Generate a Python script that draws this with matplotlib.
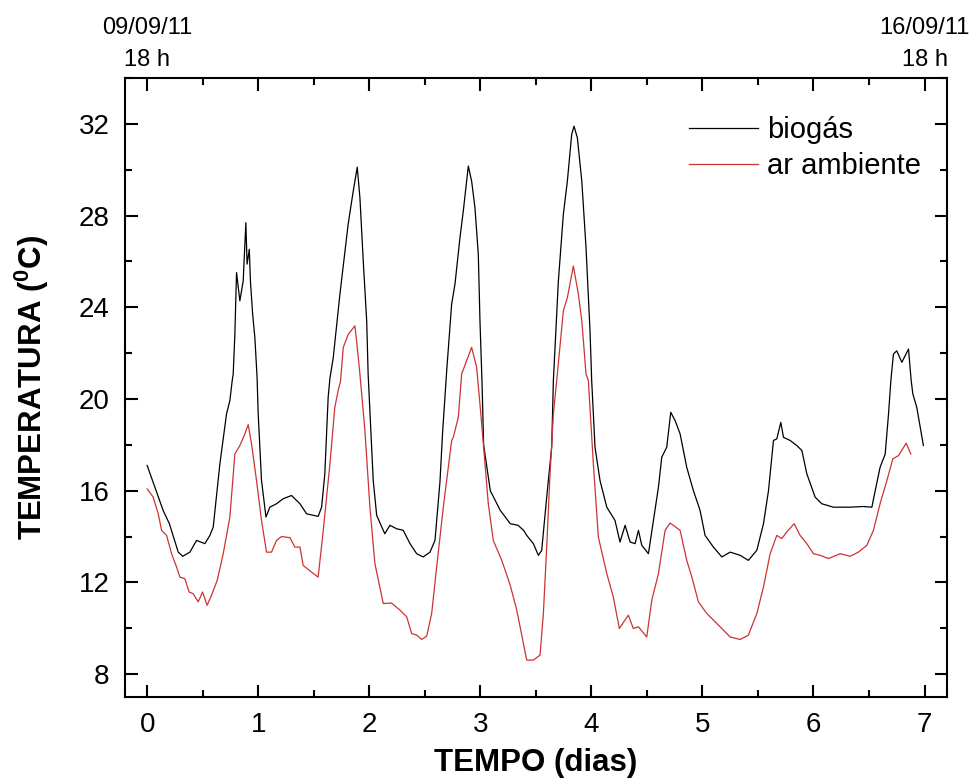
import matplotlib
matplotlib.use("Agg")
import matplotlib.pyplot as plt
from matplotlib.ticker import MultipleLocator
import matplotlib.transforms as mtransforms

plt.rcParams['font.family'] = ['Liberation Sans', 'DejaVu Sans']
plt.rcParams['mathtext.fontset'] = 'custom'
plt.rcParams['mathtext.rm'] = 'Liberation Sans'
plt.rcParams['mathtext.bf'] = 'Liberation Sans:bold'

# ---- data ----
bio_days = [0.000, 0.070, 0.144, 0.200, 0.280, 0.320, 0.385, 0.445, 0.520, 0.565,
            0.595, 0.655, 0.715, 0.745, 0.766, 0.775, 0.790, 0.805, 0.835, 0.865,
            0.889, 0.900, 0.920, 0.930, 0.950, 0.970, 0.990, 1.000, 1.030, 1.070,
            1.105, 1.165, 1.225, 1.300, 1.376, 1.436, 1.540, 1.571, 1.600, 1.630,
            1.646, 1.676, 1.736, 1.810, 1.856, 1.892, 1.916, 1.946, 1.977, 1.990,
            2.000, 2.036, 2.067, 2.140, 2.186, 2.246, 2.306, 2.367, 2.427, 2.486,
            2.547, 2.592, 2.637, 2.660, 2.697, 2.742, 2.772, 2.817, 2.847, 2.892,
            2.922, 2.952, 2.982, 2.997, 3.015, 3.030, 3.090, 3.180, 3.270, 3.340,
            3.390, 3.418, 3.478, 3.523, 3.553, 3.598, 3.643, 3.658, 3.703, 3.748,
            3.784, 3.823, 3.844, 3.874, 3.914, 3.952, 3.988, 4.003, 4.033, 4.078,
            4.139, 4.213, 4.258, 4.304, 4.349, 4.394, 4.424, 4.454, 4.514, 4.559,
            4.604, 4.634, 4.679, 4.715, 4.754, 4.799, 4.859, 4.919, 4.979, 5.024,
            5.099, 5.175, 5.250, 5.340, 5.414, 5.490, 5.550, 5.595, 5.640, 5.670,
            5.706, 5.730, 5.790, 5.850, 5.896, 5.940, 6.015, 6.075, 6.180, 6.330,
            6.450, 6.526, 6.556, 6.600, 6.646, 6.676, 6.697, 6.720, 6.750, 6.796,
            6.856, 6.880, 6.895, 6.930, 6.990]
bio_temp = [17.10, 16.15, 15.14, 14.56, 13.32, 13.14, 13.32, 13.83, 13.69, 14.05,
            14.41, 17.17, 19.35, 19.93, 20.80, 21.09, 22.83, 25.51, 24.28, 25.15,
            27.69, 25.88, 26.53, 25.15, 23.70, 22.68, 20.94, 19.35, 16.44, 14.85,
            15.28, 15.43, 15.65, 15.79, 15.43, 14.99, 14.88, 15.28, 16.74, 20.07,
            20.90, 21.81, 24.57, 27.62, 29.07, 30.11, 28.78, 26.02, 23.41, 21.09,
            20.07, 16.44, 14.92, 14.12, 14.49, 14.34, 14.27, 13.69, 13.25, 13.11,
            13.32, 13.83, 16.40, 18.50, 21.20, 24.14, 25.01, 27.04, 28.20, 30.16,
            29.50, 28.34, 26.31, 23.41, 20.80, 18.00, 16.00, 15.14, 14.56, 14.49,
            14.27, 14.05, 13.69, 13.18, 13.40, 15.72, 17.90, 20.80, 25.15, 28.06,
            29.50, 31.54, 31.90, 31.39, 29.50, 26.60, 22.97, 20.80, 17.90, 16.44,
            15.28, 14.70, 13.76, 14.49, 13.76, 13.69, 14.27, 13.62, 13.25, 14.70,
            16.15, 17.46, 17.90, 19.42, 19.06, 18.48, 17.02, 16.00, 15.14, 14.05,
            13.54, 13.11, 13.32, 13.18, 12.96, 13.40, 14.56, 16.00, 18.19, 18.26,
            18.98, 18.33, 18.19, 17.97, 17.75, 16.74, 15.72, 15.43, 15.28, 15.28,
            15.31, 15.28, 16.00, 17.02, 17.60, 19.35, 20.80, 21.96, 22.10, 21.60,
            22.18, 20.80, 20.22, 19.64, 17.97]

amb_days = [0.000, 0.054, 0.100, 0.130, 0.175, 0.220, 0.265, 0.295, 0.340, 0.378,
            0.414, 0.460, 0.499, 0.540, 0.580, 0.631, 0.685, 0.745, 0.790, 0.835,
            0.880, 0.910, 0.940, 0.985, 1.030, 1.075, 1.120, 1.165, 1.210, 1.286,
            1.330, 1.376, 1.405, 1.480, 1.540, 1.586, 1.646, 1.690, 1.720, 1.742,
            1.766, 1.812, 1.871, 1.886, 1.916, 1.961, 2.006, 2.051, 2.126, 2.200,
            2.277, 2.337, 2.382, 2.427, 2.472, 2.517, 2.562, 2.607, 2.667, 2.742,
            2.757, 2.802, 2.832, 2.877, 2.922, 2.967, 2.997, 3.030, 3.072, 3.117,
            3.193, 3.268, 3.328, 3.373, 3.418, 3.478, 3.538, 3.568, 3.598, 3.628,
            3.658, 3.688, 3.748, 3.784, 3.838, 3.883, 3.914, 3.952, 3.973, 4.018,
            4.063, 4.139, 4.198, 4.252, 4.333, 4.378, 4.424, 4.499, 4.544, 4.604,
            4.664, 4.709, 4.799, 4.859, 4.905, 4.964, 5.040, 5.115, 5.250, 5.340,
            5.414, 5.490, 5.550, 5.610, 5.670, 5.715, 5.760, 5.826, 5.880, 5.940,
            6.000, 6.060, 6.135, 6.240, 6.330, 6.405, 6.481, 6.540, 6.600, 6.661,
            6.715, 6.766, 6.835, 6.877]
amb_temp = [16.08, 15.72, 14.99, 14.27, 14.05, 13.25, 12.67, 12.23, 12.16, 11.58,
            11.51, 11.15, 11.58, 11.00, 11.44, 12.09, 13.25, 14.85, 17.60, 17.97,
            18.48, 18.88, 18.04, 16.44, 14.70, 13.32, 13.32, 13.83, 14.00, 13.95,
            13.54, 13.54, 12.74, 12.45, 12.23, 14.27, 17.17, 19.64, 20.36, 20.80,
            22.25, 22.83, 23.19, 22.54, 21.09, 18.62, 15.28, 12.82, 11.08, 11.10,
            10.79, 10.50, 9.77, 9.70, 9.51, 9.65, 10.64, 12.67, 15.28, 18.19,
            18.33, 19.20, 21.09, 21.67, 22.25, 21.38, 19.78, 17.90, 15.43, 13.83,
            12.96, 11.90, 10.80, 9.70, 8.61, 8.61, 8.83, 10.64, 13.54, 16.74,
            19.35, 20.80, 23.85, 24.42, 25.80, 24.57, 23.41, 21.09, 20.80, 17.17,
            13.98, 12.38, 11.36, 9.99, 10.57, 9.99, 10.06, 9.62, 11.22, 12.38,
            14.27, 14.59, 14.27, 12.96, 12.23, 11.15, 10.64, 10.28, 9.62, 9.51,
            9.70, 10.64, 11.80, 13.25, 14.05, 13.91, 14.20, 14.56, 14.05, 13.69,
            13.25, 13.18, 13.04, 13.25, 13.14, 13.32, 13.62, 14.27, 15.43, 16.44,
            17.39, 17.53, 18.07, 17.60]

series_labels = ["biogás", "ar ambiente"]
x_ticks = [0, 1, 2, 3, 4, 5, 6, 7]
y_ticks = [8, 12, 16, 20, 24, 28, 32]
top_labels = ["09/09/11\n18 h", "16/09/11\n18 h"]
top_label_days = [0, 7]

# ---- figure ----
fig = plt.figure(figsize=(9.76, 7.83), dpi=100)
ax = fig.add_axes([0.128, 0.1098, 0.842, 0.7906])

ax.plot(bio_days, bio_temp, color='black', lw=0.9, label=series_labels[0])
ax.plot(amb_days, amb_temp, color='#cc3333', lw=0.9, label=series_labels[1])

ax.set_xlim(-0.2, 7.2)
ax.set_ylim(7, 34)
ax.set_xticks(x_ticks)
ax.set_yticks(y_ticks)
ax.xaxis.set_minor_locator(MultipleLocator(0.5))
ax.yaxis.set_minor_locator(MultipleLocator(2))
ax.tick_params(which='both', direction='in', top=True, right=True, width=1.5,
               labelsize=20, pad=11)
ax.tick_params(which='major', length=9)
ax.tick_params(which='minor', length=5)
for sp in ax.spines.values():
    sp.set_linewidth(1.5)

ax.set_xlabel("TEMPO (dias)", fontsize=22.5, fontweight='bold')
ax.set_ylabel(r"TEMPERATURA ($^{\mathbf{0}}$C)", fontsize=22.5, fontweight='bold')
ax.xaxis.set_label_coords(0.5, -0.082)
ax.yaxis.set_label_coords(-0.090, 0.5)

trans = mtransforms.blended_transform_factory(ax.transData, ax.transAxes)
for d, t in zip(top_label_days, top_labels):
    ax.text(d, 1.011, t, transform=trans, ha='center', va='bottom', fontsize=17,
            linespacing=1.6, clip_on=False)

leg = ax.legend(loc='upper left', bbox_to_anchor=(0.687, 0.939), frameon=False,
                fontsize=21, handlelength=2.35, handletextpad=0.3,
                labelspacing=0.3, borderpad=0, borderaxespad=0)

fig.savefig("out.png", dpi=100)
